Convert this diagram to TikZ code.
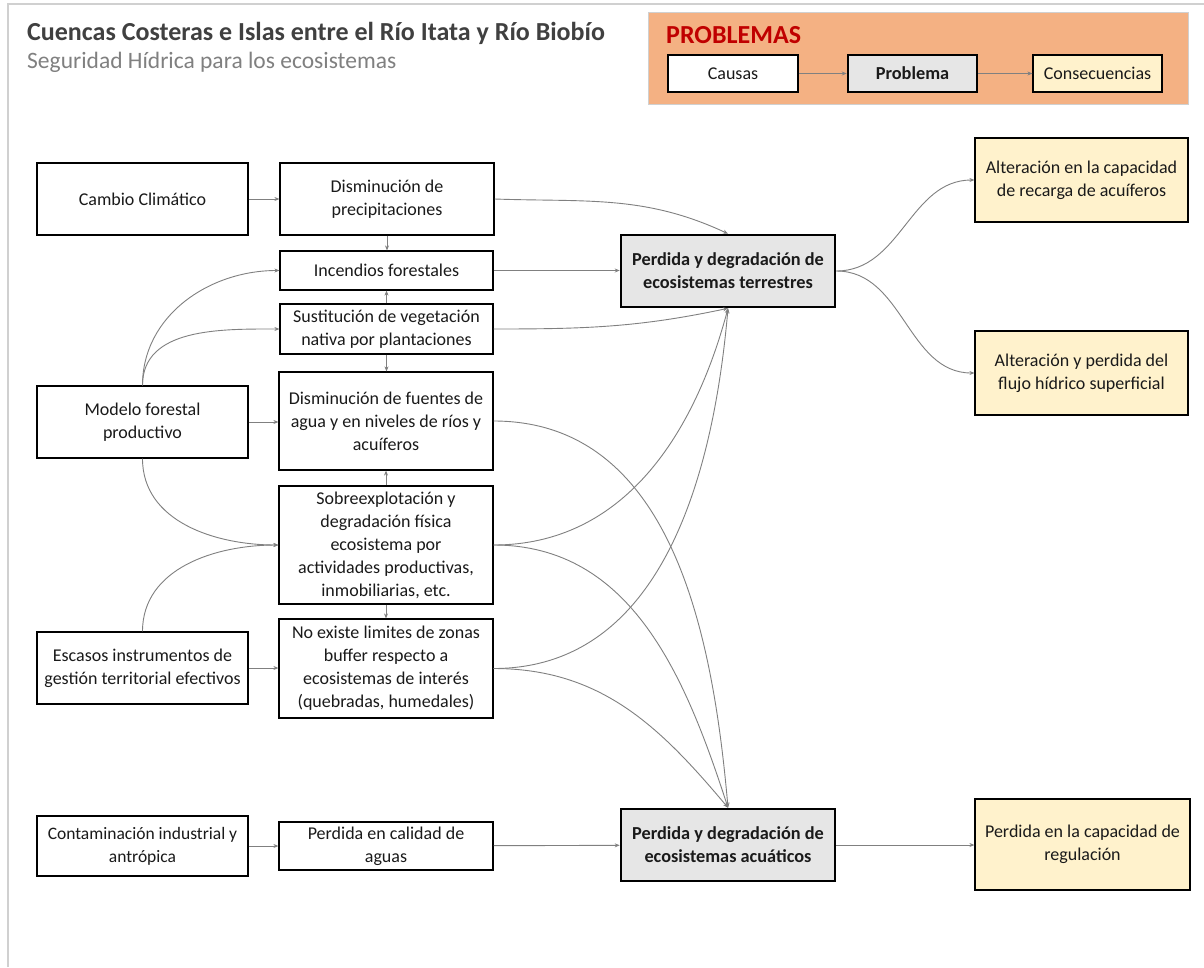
\documentclass[tikz,border=0pt]{standalone}
\usepackage{fontspec}
\setmainfont{Carlito}
\usetikzlibrary{arrows.meta}
\definecolor{lnc}{HTML}{808080}
\definecolor{probfill}{HTML}{E6E6E6}
\definecolor{consfill}{HTML}{FFF2CC}
\definecolor{legfill}{HTML}{F4B183}
\definecolor{redt}{HTML}{C00000}
\definecolor{framec}{HTML}{D0D0D0}
\definecolor{titlec}{HTML}{404040}
\definecolor{subc}{HTML}{808080}
\definecolor{txt}{HTML}{1A1A1A}
\begin{document}
\begin{tikzpicture}[x=1pt,y=-1pt,
 box/.style={draw=black, line width=1.2pt, fill=white, text=txt, align=center, inner sep=2pt, font=\fontsize{18}{23}\selectfont},
 probbox/.style={draw=black, line width=2.6pt, fill=probfill, text=txt, align=center, inner sep=2pt, font=\bfseries\fontsize{18.3}{23}\selectfont},
 consbox/.style={draw=black, line width=1.2pt, fill=consfill, text=txt, align=center, inner sep=2pt, font=\fontsize{18}{23}\selectfont},
 conn/.style={draw=lnc, line width=0.9pt, -{Stealth[length=5pt,width=4pt]}},
]
\useasboundingbox (0,0) rectangle (1204,967);
\fill[white] (0,0) rectangle (1204,967);
\draw[framec, line width=1.5pt] (8,967) -- (8,4) -- (1204,4);

% title
\node[anchor=west, inner sep=0pt, text=titlec, font=\bfseries\fontsize{26}{30}\selectfont] (title) at (27,33) {Cuencas Costeras e Islas entre el Río Itata y Río Biobío};
\node[anchor=west, inner sep=0pt, text=subc, font=\fontsize{23.5}{27}\selectfont] (subtitle) at (27,62) {Seguridad Hídrica para los ecosistemas};

% legend
\node[draw=framec, line width=1pt, fill=legfill, minimum width=540pt, minimum height=92pt, inner sep=0pt] (leg) at (918,58) {};
\node[anchor=west, inner sep=0pt, text=redt, font=\bfseries\fontsize{26}{30}\selectfont] (legtitle) at (666,35) {PROBLEMAS};
\node[box, minimum width=130pt, minimum height=37pt] (lcau) at (733,73.5) {Causas};
\node[probbox, minimum width=129pt, minimum height=37pt] (lpro) at (912.5,73.5) {Problema};
\node[consbox, minimum width=129pt, minimum height=37pt] (lcon) at (1097.5,73.5) {Consecuencias};
\draw[conn] (lcau) -- (lpro);
\draw[conn] (lpro) -- (lcon);

% causes
\node[box, minimum width=211pt, minimum height=72pt] (cc) at (142.5,199) {Cambio Climático};
\node[box, minimum width=211pt, minimum height=72pt] (mod) at (142.5,422) {Modelo forestal\\productivo};
\node[box, minimum width=211pt, minimum height=72pt] (esc) at (142.5,668) {Escasos instrumentos de\\gestión territorial efectivos};
\node[box, minimum width=211pt, minimum height=60pt, font=\fontsize{17.5}{23}\selectfont] (con) at (142.5,846) {Contaminación industrial y\\antrópica};

\node[box, minimum width=214pt, minimum height=72pt] (dp) at (387,199) {Disminución de\\precipitaciones};
\node[box, minimum width=213pt, minimum height=39pt] (inc) at (386.5,270.5) {Incendios forestales};
\node[box, minimum width=213pt, minimum height=50pt] (sus) at (386.5,329) {Sustitución de vegetación\\nativa por plantaciones};
\node[box, minimum width=214pt, minimum height=98pt] (dfa) at (386,421) {Disminución de fuentes de\\agua y en niveles de ríos y\\acuíferos};
\node[box, minimum width=214pt, minimum height=118pt] (sob) at (386,545) {Sobreexplotación y\\degradación física\\ecosistema por\\actividades productivas,\\inmobiliarias, etc.};
\node[box, minimum width=214pt, minimum height=99pt] (nex) at (386,668.5) {No existe limites de zonas\\buffer respecto a\\ecosistemas de interés\\(quebradas, humedales)};
\node[box, minimum width=214pt, minimum height=48pt] (pca) at (386,846) {Perdida en calidad de\\aguas};

% problems
\node[probbox, minimum width=214pt, minimum height=72pt] (pt) at (728,271) {Perdida y degradación de\\ecosistemas terrestres};
\node[probbox, minimum width=214pt, minimum height=72pt] (pa) at (728,845) {Perdida y degradación de\\ecosistemas acuáticos};

% consequences
\node[consbox, minimum width=213pt, minimum height=84pt] (ar) at (1081.5,180) {Alteración en la capacidad\\de recarga de acuíferos};
\node[consbox, minimum width=213pt, minimum height=84pt] (af) at (1081.5,373) {Alteración y perdida del\\flujo hídrico superficial};
\node[consbox, minimum width=215pt, minimum height=91pt] (pr) at (1082.5,844.5) {Perdida en la capacidad de\\regulación};

% connectors
\draw[conn] (cc) -- (dp);
\draw[conn] (dp.south) -- (dp.south |- inc.north);
\draw[conn] (sus.north) -- (sus.north |- inc.south);
\draw[conn] (sus.south) -- (sus.south |- dfa.north);
\draw[conn] (sob.north) -- (sob.north |- dfa.south);
\draw[conn] (sob.south) -- (sob.south |- nex.north);
\draw[conn] (mod.east) -- (mod.east -| dfa.west);
\draw[conn] (mod.north) to[out=90,in=180] (inc.west);
\draw[conn] (mod.north) to[out=90,in=180] (sus.west);
\draw[conn] (mod.south) to[out=-90,in=180] (sob.west);
\draw[conn] (esc.north) to[out=90,in=180] (sob.west);
\draw[conn] (esc.east) -- (esc.east -| nex.west);
\draw[conn] (con) -- (pca);
\draw[conn] (pca) -- (pa);

\draw[conn] (dp.east) to[out=-2,in=155] (pt.north);
\draw[conn] (inc.east) -- (inc.east -| pt.west);
\draw[conn] (sus.east) to[out=0,in=192] (pt.south);
\draw[conn] (sob.east) to[out=0,in=-105] (pt.south);
\draw[conn] (nex.east) to[out=0,in=-95] (pt.south);
\draw[conn] (dfa.east) to[out=0,in=95] (pa.north);
\draw[conn] (sob.east) to[out=0,in=108] (pa.north);
\draw[conn] (nex.east) to[out=0,in=130] (pa.north);

\draw[conn] (pt.east) to[out=0,in=180] (ar.west);
\draw[conn] (pt.east) to[out=0,in=180] (af.west);
\draw[conn] (pa.east) -- (pa.east -| pr.west);
\end{tikzpicture}
\end{document}
